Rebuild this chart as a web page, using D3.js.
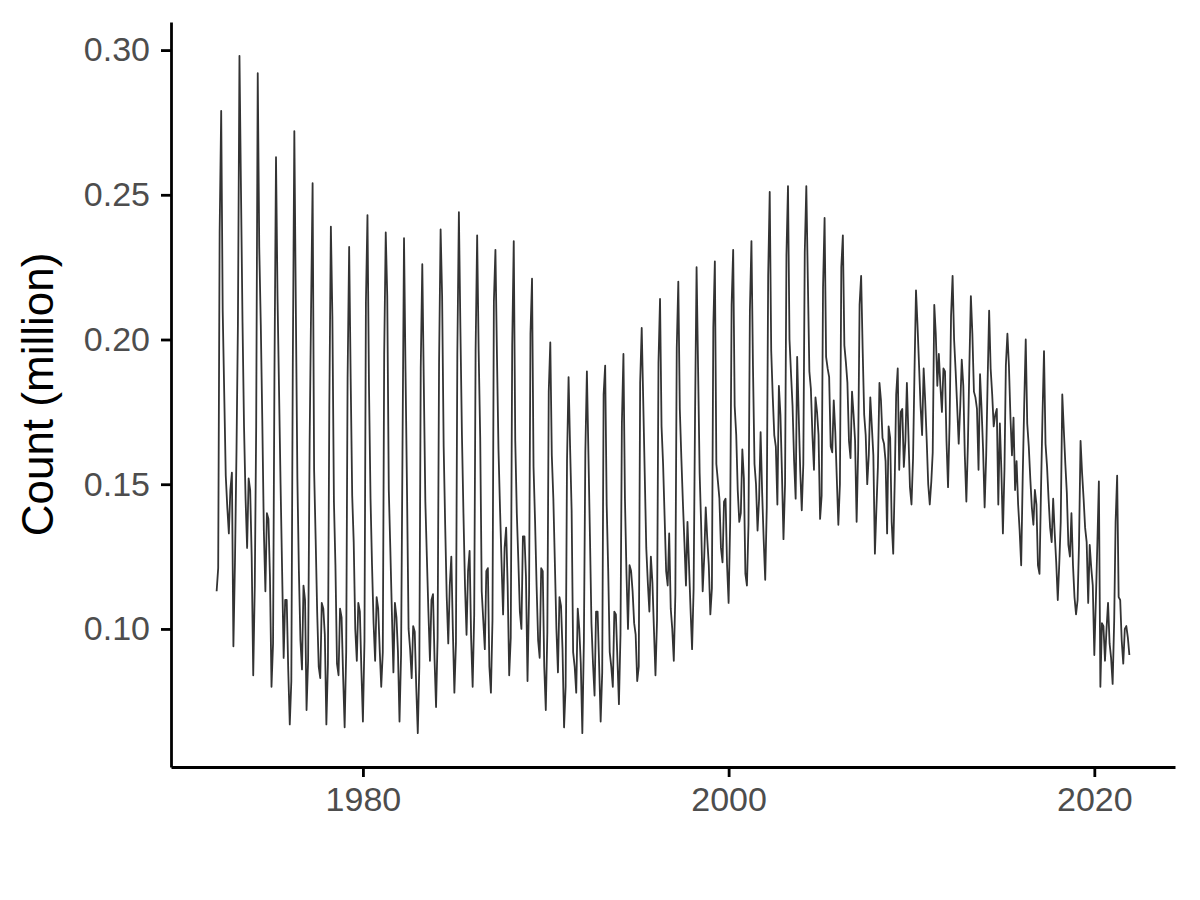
<!DOCTYPE html>
<html>
<head>
<meta charset="utf-8">
<script src="https://cdn.jsdelivr.net/npm/d3@7"></script>
<style>
    body { margin: 0; background: #ffffff; }
    svg { display: block; }
</style>
</head>
<body>
<div id="chart-area"></div>
<script>
// Monthly counts (million), Jan..Dec for each year
var startYear = 1972;
var counts1970s = [
    0.113, 0.121, 0.237, 0.279, 0.210, 0.181, 0.153, 0.142, 0.133, 0.148, 0.154, 0.094, // 1972
    0.123, 0.162, 0.205, 0.298, 0.252, 0.206, 0.170, 0.145, 0.128, 0.152, 0.148, 0.125, // 1973
    0.084, 0.115, 0.170, 0.292, 0.232, 0.205, 0.172, 0.134, 0.113, 0.140, 0.138, 0.118, // 1974
    0.080, 0.095, 0.188, 0.263, 0.215, 0.182, 0.150, 0.120, 0.090, 0.110, 0.110, 0.086, // 1975
    0.067, 0.082, 0.190, 0.272, 0.211, 0.152, 0.120, 0.096, 0.086, 0.115, 0.110, 0.072, // 1976
    0.089, 0.165, 0.210, 0.254, 0.155, 0.131, 0.106, 0.087, 0.083, 0.109, 0.107, 0.098, // 1977
    0.067, 0.088, 0.177, 0.239, 0.208, 0.144, 0.122, 0.088, 0.084, 0.107, 0.104, 0.084, // 1978
    0.066, 0.092, 0.187, 0.232, 0.187, 0.146, 0.130, 0.100, 0.089, 0.109, 0.106, 0.086  // 1979
];
var counts1980s = [
    0.068, 0.096, 0.213, 0.243, 0.184, 0.145, 0.122, 0.102, 0.089, 0.111, 0.107, 0.093, // 1980
    0.080, 0.092, 0.195, 0.237, 0.215, 0.148, 0.128, 0.106, 0.085, 0.109, 0.104, 0.092, // 1981
    0.068, 0.091, 0.160, 0.235, 0.189, 0.146, 0.100, 0.093, 0.083, 0.101, 0.099, 0.080, // 1982
    0.064, 0.087, 0.190, 0.226, 0.185, 0.144, 0.125, 0.106, 0.089, 0.110, 0.112, 0.090, // 1983
    0.073, 0.097, 0.192, 0.238, 0.215, 0.163, 0.136, 0.111, 0.095, 0.115, 0.125, 0.100, // 1984
    0.078, 0.095, 0.195, 0.244, 0.204, 0.167, 0.140, 0.115, 0.098, 0.120, 0.127, 0.097, // 1985
    0.080, 0.105, 0.196, 0.236, 0.196, 0.166, 0.113, 0.103, 0.093, 0.120, 0.121, 0.087, // 1986
    0.078, 0.103, 0.213, 0.231, 0.195, 0.162, 0.142, 0.123, 0.105, 0.128, 0.135, 0.115, // 1987
    0.084, 0.097, 0.198, 0.234, 0.165, 0.140, 0.124, 0.106, 0.100, 0.132, 0.132, 0.118, // 1988
    0.082, 0.112, 0.202, 0.221, 0.156, 0.137, 0.115, 0.096, 0.090, 0.121, 0.120, 0.087  // 1989
];
var counts1990s = [
    0.072, 0.099, 0.182, 0.199, 0.160, 0.145, 0.123, 0.100, 0.085, 0.111, 0.108, 0.093, // 1990
    0.066, 0.080, 0.158, 0.187, 0.163, 0.141, 0.092, 0.087, 0.078, 0.107, 0.100, 0.088, // 1991
    0.064, 0.096, 0.161, 0.189, 0.161, 0.132, 0.102, 0.088, 0.077, 0.106, 0.106, 0.088, // 1992
    0.068, 0.085, 0.181, 0.191, 0.143, 0.120, 0.092, 0.087, 0.080, 0.106, 0.105, 0.090, // 1993
    0.074, 0.098, 0.171, 0.195, 0.145, 0.119, 0.100, 0.122, 0.120, 0.113, 0.102, 0.098, // 1994
    0.082, 0.087, 0.185, 0.204, 0.179, 0.153, 0.128, 0.116, 0.106, 0.125, 0.116, 0.100, // 1995
    0.084, 0.103, 0.192, 0.214, 0.170, 0.157, 0.139, 0.120, 0.115, 0.133, 0.107, 0.100, // 1996
    0.089, 0.112, 0.197, 0.220, 0.176, 0.159, 0.144, 0.130, 0.115, 0.137, 0.122, 0.107, // 1997
    0.093, 0.114, 0.173, 0.225, 0.190, 0.154, 0.136, 0.113, 0.125, 0.142, 0.131, 0.122, // 1998
    0.105, 0.114, 0.204, 0.227, 0.157, 0.151, 0.145, 0.128, 0.123, 0.144, 0.145, 0.122  // 1999
];
var counts2000s = [
    0.109, 0.137, 0.212, 0.231, 0.177, 0.167, 0.148, 0.137, 0.140, 0.162, 0.152, 0.119, // 2000
    0.115, 0.136, 0.210, 0.234, 0.191, 0.157, 0.150, 0.134, 0.145, 0.168, 0.147, 0.131, // 2001
    0.117, 0.142, 0.222, 0.251, 0.196, 0.180, 0.167, 0.163, 0.143, 0.184, 0.174, 0.154, // 2002
    0.131, 0.150, 0.229, 0.253, 0.200, 0.188, 0.177, 0.158, 0.145, 0.194, 0.174, 0.155, // 2003
    0.141, 0.157, 0.230, 0.253, 0.221, 0.189, 0.183, 0.167, 0.155, 0.180, 0.175, 0.167, // 2004
    0.138, 0.146, 0.218, 0.242, 0.194, 0.190, 0.187, 0.163, 0.161, 0.179, 0.168, 0.152, // 2005
    0.136, 0.150, 0.225, 0.236, 0.198, 0.192, 0.185, 0.165, 0.159, 0.182, 0.174, 0.165, // 2006
    0.137, 0.162, 0.212, 0.222, 0.197, 0.174, 0.167, 0.150, 0.160, 0.180, 0.170, 0.160, // 2007
    0.126, 0.142, 0.156, 0.185, 0.179, 0.166, 0.164, 0.158, 0.133, 0.170, 0.166, 0.137, // 2008
    0.126, 0.152, 0.181, 0.190, 0.155, 0.175, 0.176, 0.156, 0.165, 0.185, 0.167, 0.149  // 2009
];
var counts2010s = [
    0.143, 0.159, 0.188, 0.217, 0.205, 0.191, 0.177, 0.167, 0.190, 0.179, 0.165, 0.150, // 2010
    0.143, 0.151, 0.161, 0.212, 0.202, 0.184, 0.195, 0.184, 0.175, 0.190, 0.189, 0.165, // 2011
    0.149, 0.171, 0.208, 0.222, 0.200, 0.189, 0.177, 0.164, 0.177, 0.193, 0.184, 0.160, // 2012
    0.144, 0.164, 0.190, 0.215, 0.202, 0.182, 0.180, 0.176, 0.155, 0.188, 0.176, 0.162, // 2013
    0.142, 0.160, 0.185, 0.210, 0.190, 0.181, 0.170, 0.174, 0.176, 0.143, 0.171, 0.155, // 2014
    0.133, 0.155, 0.191, 0.202, 0.191, 0.173, 0.160, 0.173, 0.148, 0.158, 0.143, 0.134, // 2015
    0.122, 0.153, 0.177, 0.200, 0.171, 0.163, 0.152, 0.142, 0.136, 0.148, 0.143, 0.122, // 2016
    0.119, 0.149, 0.173, 0.196, 0.164, 0.156, 0.145, 0.135, 0.130, 0.145, 0.133, 0.123, // 2017
    0.110, 0.123, 0.137, 0.181, 0.169, 0.157, 0.147, 0.129, 0.125, 0.140, 0.122, 0.111, // 2018
    0.105, 0.110, 0.129, 0.165, 0.154, 0.145, 0.135, 0.130, 0.109, 0.129, 0.121, 0.115  // 2019
];
var counts2020s = [
    0.091, 0.110, 0.129, 0.151, 0.080, 0.102, 0.101, 0.089, 0.100, 0.109, 0.095, 0.090, // 2020
    0.081, 0.103, 0.137, 0.153, 0.111, 0.110, 0.096, 0.088, 0.100, 0.101, 0.097, 0.091  // 2021
];
var xTickYears = [1980, 2000, 2020];
var yTickValues = [0.10, 0.15, 0.20, 0.25, 0.30];

function lineChart(){
    // Dimensions of chart area
    var margin = { left:171, right:25, top:22, bottom:133 };
    var width = 1200 - margin.left - margin.right,
        height = 900 - margin.top - margin.bottom;

    var svg = d3.select("#chart-area")
        .append("svg")
            .attr("width", width + margin.left + margin.right)
            .attr("height", height + margin.top + margin.bottom)
            .style("font-family", "Arial, 'Liberation Sans', sans-serif")
        .append("g")
            .attr("transform", "translate(" + margin.left + ", " + margin.top + ")");

    // join the decades and give every value its month
    var values = [].concat(counts1970s, counts1980s, counts1990s, counts2000s, counts2010s, counts2020s);
    var data = values.map(function(v, i){
        return { date: new Date(startYear + Math.floor(i / 12), i % 12, 1), count: v };
    });

    // ggplot style 5% expansion on both axes
    var xExt = d3.extent(data, function(d){ return d.date.getTime(); });
    var xPad = (xExt[1] - xExt[0]) * 0.05;
    var x = d3.scaleTime()
        .domain([new Date(xExt[0] - xPad), new Date(xExt[1] + xPad)])
        .range([0, width]);

    var yExt = d3.extent(data, function(d){ return d.count; });
    var yPad = (yExt[1] - yExt[0]) * 0.05;
    var y = d3.scaleLinear()
        .domain([yExt[0] - yPad, yExt[1] + yPad])
        .range([height, 0]);

    // the series
    var line = d3.line()
        .x(function(d){ return x(d.date); })
        .y(function(d){ return y(d.count); });

    svg.append("path")
        .datum(data)
        .attr("fill", "none")
        .attr("stroke", "#333333")
        .attr("stroke-width", 1.8)
        .attr("stroke-linejoin", "round")
        .attr("d", line);

    // X Axis
    var xAxisCall = d3.axisBottom(x)
        .tickValues(xTickYears.map(function(yr){ return new Date(yr, 0, 1); }))
        .tickFormat(d3.timeFormat("%Y"))
        .tickSizeInner(10)
        .tickSizeOuter(0)
        .tickPadding(10);
    var xAxisGroup = svg.append("g")
        .attr("class", "x axis")
        .attr("transform", "translate(0," + height + ")")
        .call(xAxisCall);

    // Y Axis
    var yAxisCall = d3.axisLeft(y)
        .tickValues(yTickValues)
        .tickFormat(d3.format(".2f"))
        .tickSizeInner(10)
        .tickSizeOuter(0)
        .tickPadding(11);
    var yAxisGroup = svg.append("g")
        .attr("class", "y axis")
        .call(yAxisCall);

    [xAxisGroup, yAxisGroup].forEach(function(g){
        g.select(".domain").attr("stroke", "#000000").attr("stroke-width", 2.8);
        g.selectAll(".tick line").attr("stroke", "#000000").attr("stroke-width", 2.8);
        g.selectAll(".tick text")
            .attr("fill", "#4D4D4D")
            .attr("font-size", "34px")
            .style("font-family", "Arial, 'Liberation Sans', sans-serif");
    });

    // Y Label
    svg.append("text")
        .attr("y", -118)
        .attr("x", -(height / 2))
        .attr("font-size", "44px")
        .attr("fill", "#000000")
        .attr("text-anchor", "middle")
        .attr("transform", "rotate(-90)")
        .text("Count (million)");
}

lineChart();
</script>
</body>
</html>
